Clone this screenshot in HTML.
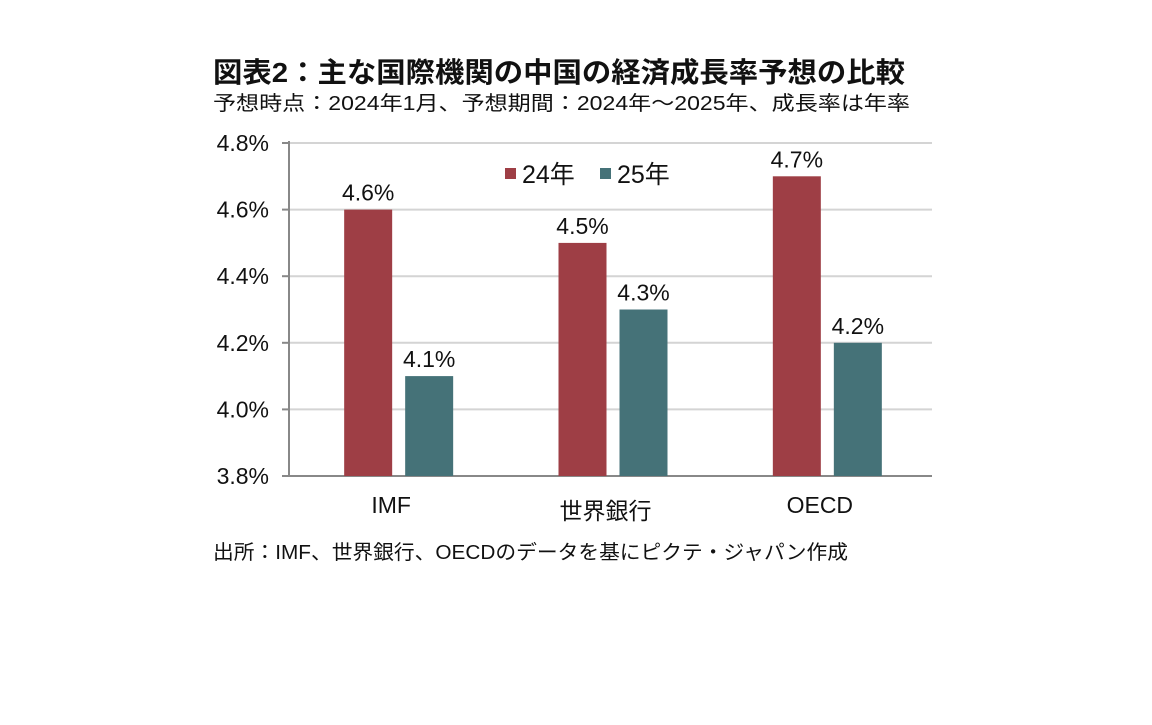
<!DOCTYPE html>
<html><head><meta charset="utf-8"><style>
body{margin:0;background:#fff;width:1152px;height:720px;overflow:hidden}
svg text{font-family:"Liberation Sans Narrow","Liberation Sans","Noto Sans CJK JP",sans-serif;fill:#111}
</style></head><body>
<svg id="chart" width="1152" height="720" xmlns="http://www.w3.org/2000/svg">
<text x="213" y="82" font-size="28" font-weight="bold" textLength="692" lengthAdjust="spacingAndGlyphs" style="font-family:'Liberation Sans','Noto Sans CJK JP',sans-serif">図表2：主な国際機関の中国の経済成長率予想の比較</text>
<text x="213" y="110" font-size="20" textLength="697" lengthAdjust="spacingAndGlyphs">予想時点：2024年1月、予想期間：2024年～2025年、成長率は年率</text>
<text x="213" y="559" font-size="20" textLength="635" lengthAdjust="spacingAndGlyphs">出所：IMF、世界銀行、OECDのデータを基にピクテ・ジャパン作成</text>
<g id="plot"></g>
</svg>
<script>
const categories=["IMF","世界銀行","OECD"];
const series24=[4.6,4.5,4.7];
const series25=[4.1,4.3,4.2];
const ticks=[3.8,4.0,4.2,4.4,4.6,4.8];
const seriesNames=["24年","25年"];
const ns="http://www.w3.org/2000/svg";
const g=document.getElementById('plot');
const X0=289,X1=932,Y0=476,Y1=143,vmin=3.8,vmax=4.8;
const y=v=>Y0-(v-vmin)/(vmax-vmin)*(Y0-Y1);
const bw=(X1-X0)/categories.length;
function el(t,a,txt){const e=document.createElementNS(ns,t);for(const k in a)e.setAttribute(k,a[k]);if(txt!==undefined)e.textContent=txt;g.appendChild(e);return e;}
ticks.forEach(t=>{
 if(t>vmin){const l=el('line',{x1:X0,x2:X1,y1:y(t),y2:y(t),stroke:'#d4d4d4','stroke-width':2});
 
 }
 const tk=el('line',{x1:X0-7,x2:X0,y1:y(t),y2:y(t),stroke:'#888','stroke-width':2});
 
 
 const tx=el('text',{x:X0-20,y:y(t)+8,'font-size':23,'text-anchor':'end'},t.toFixed(1)+'%');
 
 
});
const ax=el('line',{x1:X0,x2:X0,y1:Y1-2,y2:Y0,stroke:'#888','stroke-width':2});


const xa=el('line',{x1:X0,x2:X1,y1:Y0,y2:Y0,stroke:'#888','stroke-width':2});


const colors=['#9e3e45','#457278'];
categories.forEach((c,i)=>{
 const cx=X0+bw*(i+0.5);
 [series24[i],series25[i]].forEach((v,j)=>{
  const x=j===0?cx-52:cx+9;
  const r=el('rect',{x:x,y:y(v),width:48,height:Y0-y(v),fill:colors[j]});
  
  
  const t=el('text',{x:x+24,y:y(v)-9,'font-size':23,'text-anchor':'middle'},v.toFixed(1)+'%');
  
  
 });
 const lb=el('text',{x:cx-5,y:i===1?519:513,'font-size':23,'text-anchor':'middle'},c);
 
 
});
[[505,522],[600,617]].forEach((p,j)=>{
 const s=el('rect',{x:p[0],y:168,width:11,height:11,fill:colors[j]});
 
 
 const t=el('text',{x:p[1],y:183,'font-size':25},seriesNames[j]);
 
 
});
</script>
</body></html>
